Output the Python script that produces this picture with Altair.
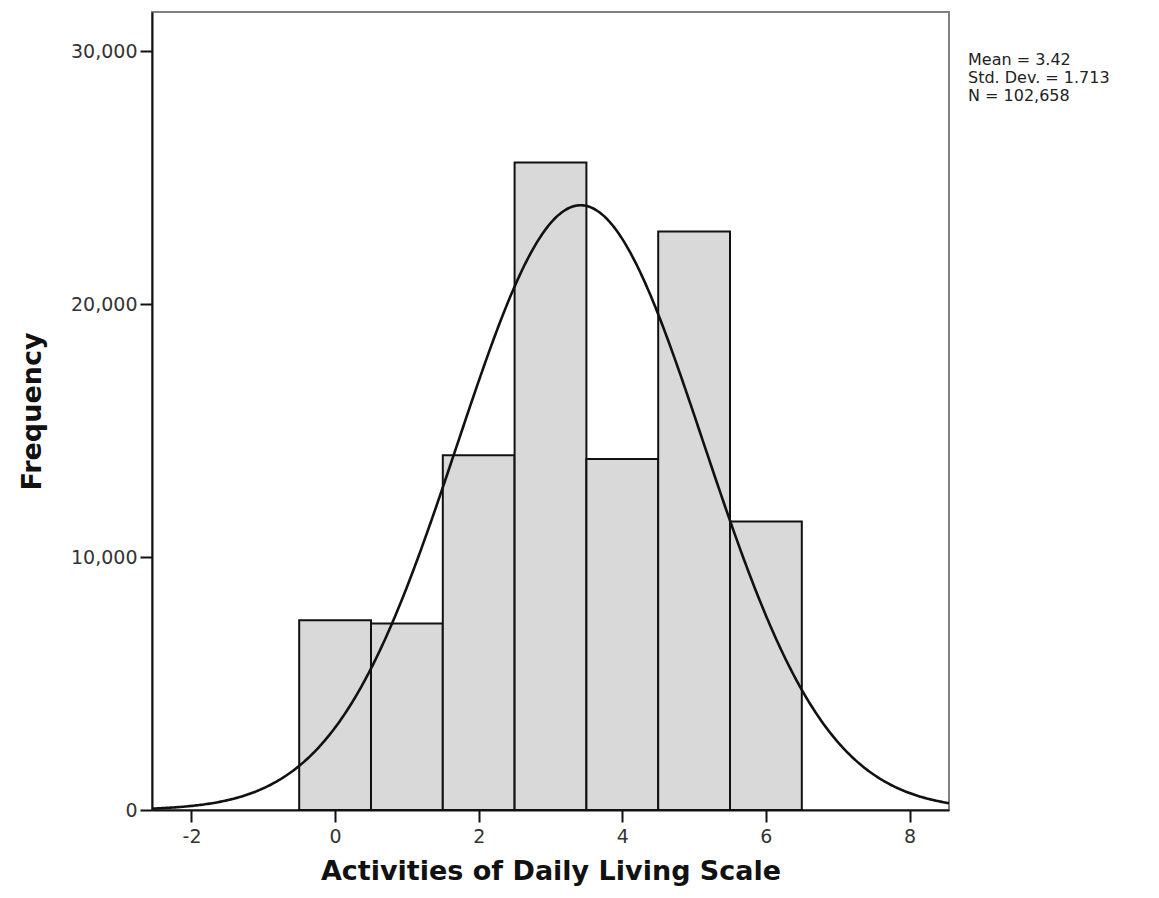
import altair as alt
import pandas as pd

# Histogram of the ADL scale scores (one bin per integer score)
scores = [0, 1, 2, 3, 4, 5, 6]
counts = [7500, 7370, 14030, 25600, 13880, 22870, 11408]

# Summary statistics of the sample
mean = 3.42
std_dev = 1.713
n_total = 102658

x_domain = [-2.55, 8.55]
y_domain = [0, 31550]
x_ticks = [-2, 0, 2, 4, 6, 8]
y_ticks = [0, 10000, 20000, 30000]

FONT = "DejaVu Sans"

bars_df = pd.DataFrame({"score": scores, "count": counts})

x_scale = alt.Scale(domain=x_domain, nice=False, zero=False)
y_scale = alt.Scale(domain=y_domain, nice=False)

bars = (
    alt.Chart(bars_df)
    .transform_calculate(lo="datum.score - 0.5", hi="datum.score + 0.5")
    .mark_rect(fill="#d9d9d9", stroke="#111111", strokeWidth=2)
    .encode(
        x=alt.X(
            "lo:Q",
            scale=x_scale,
            axis=alt.Axis(
                title="Activities of Daily Living Scale",
                values=x_ticks,
                labelExpr="datum.value < 0 ? '-' + abs(datum.value) : '' + datum.value",
                grid=False,
            ),
        ),
        x2="hi:Q",
        y=alt.Y(
            "count:Q",
            scale=y_scale,
            axis=alt.Axis(
                title="Frequency",
                values=y_ticks,
                format=",d",
                grid=False,
            ),
        ),
        y2=alt.datum(0),
    )
)

# Fitted normal curve: N * binwidth * normal pdf(mean, sd)
curve = (
    alt.Chart(alt.sequence(x_domain[0], x_domain[1] + 0.01, 0.02, as_="x"))
    .transform_calculate(
        density=f"{n_total} * exp(-0.5 * pow((datum.x - {mean}) / {std_dev}, 2))"
        f" / ({std_dev} * sqrt(2 * PI))"
    )
    .mark_line(color="#111111", strokeWidth=2.6, clip=True)
    .encode(
        x=alt.X("x:Q", scale=x_scale),
        y=alt.Y("density:Q", scale=y_scale),
    )
)

# Summary statistics block to the right of the plot, one line per text mark
stats_text = [
    f"Mean = {mean:.2f}",
    f"Std. Dev. = {std_dev:.3f}",
    f"N = {n_total:,}",
]
stats_layers = [
    alt.Chart(pd.DataFrame({"t": [line]}))
    .mark_text(
        align="left",
        baseline="alphabetic",
        font=FONT,
        fontSize=16,
        color="#222222",
    )
    .encode(x=alt.value(816), y=alt.value(53 + 18 * i), text="t:N")
    for i, line in enumerate(stats_text)
]

chart = (
    alt.layer(bars, curve, *stats_layers)
    .properties(
        width=797,
        height=798,
        autosize=alt.AutoSizeParams(type="none"),
        padding={"left": 152, "top": 12, "right": 210, "bottom": 88},
        background="white",
    )
    .configure_view(stroke="#808080", strokeWidth=2)
    .configure_axis(
        domainColor="#111111",
        domainWidth=2,
        tickColor="#111111",
        tickWidth=2,
        tickSize=12,
        labelFont=FONT,
        labelFontSize=19,
        labelColor="#333333",
        labelPadding=3,
        titleFont=FONT,
        titleFontSize=27,
        titleFontWeight="bold",
        titleColor="#111111",
    )
    .configure_axisX(labelPadding=5, titlePadding=12)
    .configure_axisY(titlePadding=24)
)

chart.save("out.html", embed_options={"renderer": "svg", "actions": False})
